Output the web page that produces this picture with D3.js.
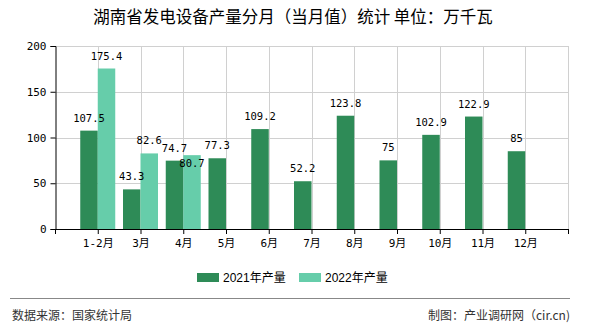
<!DOCTYPE html>
<html>
<head>
<meta charset="utf-8">
<script src="https://cdn.jsdelivr.net/npm/d3@7"></script>
<style>
html,body{margin:0;padding:0;background:#fff;}
svg{display:block;}
</style>
</head>
<body>
<svg id="chart" width="590" height="330"></svg>
<script>
const title = "湖南省发电设备产量分月（当月值）统计 单位：万千瓦";
const categories = ["1-2月","3月","4月","5月","6月","7月","8月","9月","10月","11月","12月"];
const seriesNames = ["2021年产量","2022年产量"];
const values2021 = [107.5,43.3,74.7,77.3,109.2,52.2,123.8,75,102.9,122.9,85];
const values2022 = [175.4,82.6,80.7,null,null,null,null,null,null,null,null];
const yTicks = [0,50,100,150,200];
const colors = ["#2e8b57","#66cdaa"];
const sourceText = "数据来源：国家统计局";
const creditText = "制图：产业调研网（cir.cn)";

(function(){
const svg = d3.select("#chart");
const pL = 55, pR = 568, pT = 46, pB = 229;
const step = (pR - pL) / (categories.length + 1);

const x = d3.scalePoint().domain(categories).range([pL + step, pR - step]);
const inner = d3.scaleBand().domain(seriesNames).range([-17.5, 17.5]).padding(0);
const y = d3.scaleLinear().domain([0, 200]).range([pB, pT]);

const monoFont = "'DejaVu Sans Mono','Noto Sans CJK SC',monospace";

// title
svg.append("text").attr("x", 293).attr("y", 23).attr("text-anchor","middle")
  .attr("font-family","'Noto Sans CJK SC',sans-serif").attr("font-size",16.5).attr("font-weight",400)
  .attr("fill","#000").text(title);

// gridlines
const grid = svg.append("g");
grid.selectAll("line.h").data(yTicks.filter(d=>d>0)).enter().append("line")
  .attr("x1", pL).attr("x2", pR).attr("y1", d=>Math.round(y(d))+0.5).attr("y2", d=>Math.round(y(d))+0.5)
  .attr("stroke","#d0d0d0").attr("stroke-width",1);
grid.selectAll("line.v").data(categories).enter().append("line")
  .attr("x1", d=>Math.round(x(d))+0.5).attr("x2", d=>Math.round(x(d))+0.5).attr("y1", pT).attr("y2", pB)
  .attr("stroke","#d0d0d0").attr("stroke-width",1);
grid.append("line").attr("x1", pR+0.5).attr("x2", pR+0.5).attr("y1", pT).attr("y2", pB)
  .attr("stroke","#d0d0d0");

// bars
const data = [values2021, values2022];
const barG = svg.append("g");
data.forEach((vals, si) => {
  barG.selectAll(null).data(categories.map((c,i)=>({c, v: vals[i]})).filter(d=>d.v!=null))
    .enter().append("rect")
    .attr("x", d => x(d.c) + inner(seriesNames[si]))
    .attr("width", inner.bandwidth())
    .attr("y", d => y(d.v))
    .attr("height", d => y(0) - y(d.v))
    .attr("fill", colors[si]);
});

// axes
const yAxis = d3.axisLeft(y).tickValues(yTicks).tickSize(5).tickPadding(4);
const yg = svg.append("g").attr("transform", `translate(${pL + 0.5},0)`).call(yAxis);
yg.select(".domain").attr("stroke","#000");
yg.selectAll(".tick line").attr("stroke","#000");
yg.selectAll("text").attr("font-family", monoFont).attr("font-size", 11).attr("fill","#000");

const xg = svg.append("g").attr("transform", `translate(0,${pB})`);
xg.append("line").attr("x1", pL).attr("x2", pR + 1).attr("y1", 0.5).attr("y2", 0.5).attr("stroke","#000");
const xAxis = d3.axisBottom(x).tickSize(5).tickSizeOuter(0).tickPadding(5);
const xa = xg.append("g").call(xAxis);
xa.select(".domain").remove();
xa.selectAll(".tick line").attr("stroke","#000");
xa.selectAll("text").attr("font-family", monoFont).attr("font-size", 11).attr("fill","#000");
[pL, pR].forEach(px => xg.append("line").attr("x1", px+0.5).attr("x2", px+0.5).attr("y1", 0).attr("y2", 5).attr("stroke","#000"));

// value labels with simple collision avoidance
const placed = [];
const labelG = svg.append("g");
data.forEach((vals, si) => {
  categories.forEach((c, i) => {
    const v = vals[i];
    if (v == null) return;
    const cx = x(c) + inner(seriesNames[si]) + inner.bandwidth()/2;
    const txt = String(v);
    const w = txt.length * 6, h = 10;
    let by = y(v) - 9;
    for (const p of placed) {
      const overlapX = Math.abs(p.cx - cx) < (p.w + w)/2;
      const overlapY = Math.abs(p.by - by) < h + 2;
      if (overlapX && overlapY) by = p.by + h + 5;
    }
    placed.push({cx, by, w});
    labelG.append("text").attr("x", cx).attr("y", by).attr("text-anchor","middle")
      .attr("font-family", monoFont).attr("font-size", 10.5).attr("fill","#000").text(txt);
  });
});

// legend
const legend = svg.append("g");
const legendX = [197, 299];
seriesNames.forEach((s, i) => {
  legend.append("rect").attr("x", legendX[i]).attr("y", 273).attr("width", 22).attr("height", 9).attr("fill", colors[i]);
  legend.append("text").attr("x", legendX[i] + 26).attr("y", 282)
    .attr("font-family","'Liberation Sans','Noto Sans CJK SC',sans-serif").attr("font-size", 12)
    .attr("fill","#000").text(s);
});

// separator and footer
svg.append("line").attr("x1", 10).attr("x2", 570).attr("y1", 298.5).attr("y2", 298.5).attr("stroke","#888").attr("stroke-width",1);
svg.append("text").attr("x", 12).attr("y", 320).attr("font-family","'Noto Sans CJK SC',sans-serif")
  .attr("font-size", 12).attr("fill","#333").text(sourceText);
svg.append("text").attr("x", 570).attr("y", 320).attr("text-anchor","end").attr("font-family","'Noto Sans CJK SC',sans-serif")
  .attr("font-size", 12).attr("fill","#333").text(creditText);
})();
</script>
</body>
</html>
